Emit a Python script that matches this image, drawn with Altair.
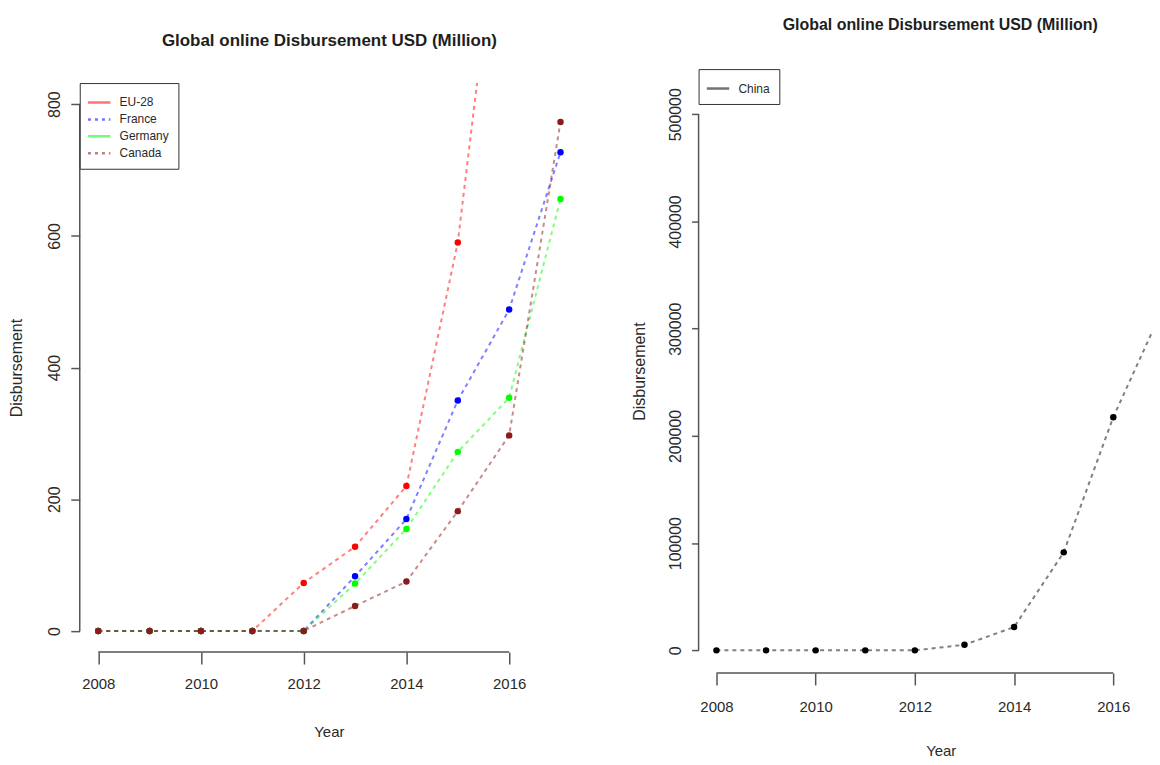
import altair as alt
import pandas as pd

# ---------------- data ----------------
YEARS = [2008, 2009, 2010, 2011, 2012, 2013, 2014, 2015, 2016, 2017]
EU28 = [0, 0, 0, 0, 73, 128, 220, 590, 1235, None]
FRANCE = [0, 0, 0, 0, 0, 83, 170, 350, 488, 727]
GERMANY = [0, 0, 0, 0, 0, 72, 155, 272, 354, 656]
CANADA = [0, 0, 0, 0, 0, 38, 75, 182, 297, 773]
CHINA = [0, 0, 0, 0, 0, 5200, 21700, 91400, 217500, 319000]

SERIES_LEFT = ["EU-28", "France", "Germany", "Canada"]
SERIES_RIGHT = ["China"]
X_TICKS = [2008, 2010, 2012, 2014, 2016]
Y_TICKS_LEFT = [0, 200, 400, 600, 800]
Y_TICKS_RIGHT = [0, 100000, 200000, 300000, 400000, 500000]
TITLE = "Global online Disbursement USD (Million)"
X_TITLE = "Year"
Y_TITLE = "Disbursement"

# ---------------- styling ----------------
FONT = "Liberation Sans, Arial, sans-serif"
AX = "#555555"
TXT = "#2a2a2a"
COLORS_LEFT = ["#ff0000", "#0000ff", "#00ff00", "#8b1a1a"]
DASH_LEFT = [[1, 0], [3, 4], [1, 0], [3, 4]]
COLORS_RIGHT = ["#000000"]

X_DOM_LEFT = [2007.64, 2017.36]
Y_DOM_LEFT = [-32, 832]
X_DOM_RIGHT = [2007.64, 2016.78]
Y_DOM_RIGHT = [-21100, 542100]


def long_table(series_names, arrays):
    rows = []
    for name, arr in zip(series_names, arrays):
        for yr, v in zip(YEARS, arr):
            if v is not None:
                rows.append({"series": name, "year": yr, "value": v})
    return pd.DataFrame(rows)


left_df = long_table(SERIES_LEFT, [EU28, FRANCE, GERMANY, CANADA])
right_df = long_table(SERIES_RIGHT, [CHINA])


def title_params(size, offset, dx):
    return alt.TitleParams(TITLE, fontSize=size, fontWeight="bold", font=FONT,
                           color="#1e1e1e", offset=offset, anchor="middle", dx=dx)


def panel(df, series, colors, dashes, xdom, ydom, yticks, width, height,
          ytick_size, ylabel_pad, ytitle_pad, xlabel_pad, xtitle_pad, xtitle_x):
    xaxis = alt.Axis(values=X_TICKS, format="d", title=X_TITLE, domain=False, grid=False,
                     tickSize=12, tickWidth=1.5, tickColor=AX, labelFontSize=15,
                     labelColor=TXT, labelPadding=xlabel_pad, labelFlush=False,
                     labelOverlap=False, titleFontSize=15, titleFontWeight="normal",
                     titleColor=TXT, titlePadding=xtitle_pad, titleX=xtitle_x, labelFont=FONT,
                     titleFont=FONT)
    yaxis = alt.Axis(values=yticks, format="d", title=Y_TITLE, domain=False, grid=False,
                     tickSize=ytick_size, tickWidth=1.5, tickColor=AX, labelAngle=270,
                     labelAlign="center", labelBaseline="bottom", labelFontSize=16,
                     labelColor=TXT, labelPadding=ylabel_pad, labelOverlap=False,
                     labelFlush=False, titleFontSize=16, titleFontWeight="normal",
                     titleColor=TXT, titlePadding=ytitle_pad, labelFont=FONT, titleFont=FONT)
    x = alt.X("year:Q", scale=alt.Scale(domain=xdom, nice=False, zero=False), axis=xaxis)
    y = alt.Y("value:Q", scale=alt.Scale(domain=ydom, nice=False, zero=False), axis=yaxis)
    cscale = alt.Scale(domain=series, range=colors)

    base = alt.Chart(df)
    lines = base.mark_line(strokeDash=[4, 4], strokeWidth=2, opacity=0.5, clip=True).encode(
        x=x, y=y, color=alt.Color("series:N", scale=cscale, legend=None),
        detail="series:N", order="year:Q")
    points = base.mark_circle(size=42, opacity=1, clip=True).encode(
        x=alt.X("year:Q"), y=alt.Y("value:Q"),
        color=alt.Color("series:N", scale=cscale, legend=None))

    leg_props = dict(orient="top-left", offset=0, title=None, padding=9,
                     strokeColor="#333333", fillColor="#ffffff",
                     symbolType="M-1.25,0H1.25", symbolSize=324,
                     symbolStrokeWidth=2.5, symbolOpacity=0.55,
                     labelFontSize=12, labelFont=FONT, labelColor=TXT, labelOffset=10,
                     rowPadding=-1)
    enc = dict(x=alt.X("year:Q"), y=alt.Y("value:Q"),
               color=alt.Color("series:N", scale=cscale, legend=alt.Legend(**leg_props)))
    if dashes is not None:
        enc["strokeDash"] = alt.StrokeDash("series:N",
                                           scale=alt.Scale(domain=series, range=dashes),
                                           legend=alt.Legend(**leg_props))
    legend_layer = base.transform_filter("datum.value < -1e12").mark_line().encode(**enc)

    rule_src = alt.Chart(pd.DataFrame({"k": [0]}))
    xline = rule_src.mark_rule(color=AX, strokeWidth=1.5).encode(
        x=alt.datum(X_TICKS[0]), x2=alt.datum(X_TICKS[-1]), y=alt.datum(ydom[0]))
    yline = rule_src.mark_rule(color=AX, strokeWidth=1.5).encode(
        x=alt.datum(xdom[0]), y=alt.datum(yticks[0]), y2=alt.datum(yticks[-1]))

    return alt.layer(lines, points, legend_layer, xline, yline).resolve_scale(
        color="independent", strokeDash="independent").properties(width=width, height=height)


left = panel(left_df, SERIES_LEFT, COLORS_LEFT, DASH_LEFT, X_DOM_LEFT, Y_DOM_LEFT,
             Y_TICKS_LEFT, 501, 571, 9, 8, 22, 13, 33, 250)
right = panel(right_df, SERIES_RIGHT, COLORS_RIGHT, None, X_DOM_RIGHT, Y_DOM_RIGHT,
              Y_TICKS_RIGHT, 455, 606, 7, 8, 20, 15, 29, 243).properties(
    title=title_params(16, 36, 15))

# a one-pixel-high empty view that carries the left title and shifts the left plot down
spacer = alt.Chart(pd.DataFrame({"k": [0]})).mark_point(
    size=0, strokeWidth=0, opacity=0).encode(
    x=alt.value(0), y=alt.value(0)).properties(width=501, height=1,
                                               title=title_params(17, 19, 0))

left_block = alt.vconcat(spacer, left, spacing=12)

chart = alt.hconcat(left_block, right, spacing=53).properties(
    padding={"left": 1, "top": 7, "right": 0, "bottom": 0}
).configure(font=FONT, background="white").configure_view(
    strokeWidth=0, strokeOpacity=0)

chart.save("out.html", embed_options={"renderer": "svg", "actions": False})
